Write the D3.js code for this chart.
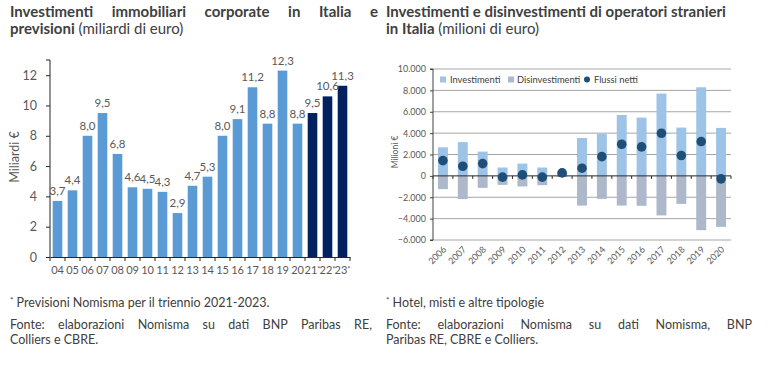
<!DOCTYPE html>
<html><head><meta charset="utf-8">
<script src="https://cdn.jsdelivr.net/npm/d3@7"></script>
<style>
body{margin:0;background:#fff;}
svg{display:block;font-family:Lato, "Open Sans", sans-serif;}
</style></head>
<body>
<svg id="c" width="768" height="381"></svg>
<script>
// ---- Left chart data ----
const years = ["04","05","06","07","08","09","10","11","12","13","14","15","16","17","18","19","20","21*","22*","23*"];
const investimenti = [3.7,4.4,8.0,9.5,6.8,4.6,4.5,4.3,2.9,4.7,5.3,8.0,9.1,11.2,8.8,12.3,8.8,9.5,10.6,11.3];
const forecast = [false,false,false,false,false,false,false,false,false,false,false,false,false,false,false,false,false,true,true,true];
const leftTicks = [0,2,4,6,8,10,12];

// ---- Right chart data ----
const anni = ["2006","2007","2008","2009","2010","2011","2012","2013","2014","2015","2016","2017","2018","2019","2020"];
const invEsteri = [2670,3160,2270,780,1150,780,380,3550,3950,5700,5450,7700,4520,8290,4490];
const disinvEsteri = [-1240,-2170,-1120,-840,-990,-870,-100,-2780,-2150,-2780,-2800,-3700,-2620,-5080,-4770];
const flussiNetti = [1430,900,1150,-120,90,-120,280,720,1800,2960,2710,3990,1900,3210,-280];
const rightTicks = [-6000,-4000,-2000,0,2000,4000,6000,8000,10000];
const legendLabels = ["Investimenti","Disinvestimenti","Flussi netti"];

const svg = d3.select("#c");
const txt = "#404040", lab = "#595959";

function justify(g, words, x0, x1, y, style){
  const nodes = words.map(w => { const t = g.append("text").attr("y", y).text(w.t); style(t, w); return t; });
  const widths = nodes.map(n => n.node().getComputedTextLength());
  const total = d3.sum(widths);
  const gap = (x1 - x0 - total) / (words.length - 1);
  let x = x0;
  nodes.forEach((n,i)=>{ n.attr("x", x); x += widths[i] + gap; });
}

// ---- Titles ----
const tStyle = (t,w)=>t.attr("font-size",15).attr("font-weight",700).attr("fill",txt);
justify(svg, ["Investimenti","immobiliari","corporate","in","Italia","e"].map(t=>({t})), 10, 378, 17, tStyle);
svg.append("text").attr("x",10).attr("y",34).attr("font-size",15).attr("fill",txt)
  .call(t=>{t.append("tspan").attr("font-weight",700).text("previsioni"); t.append("tspan").text(" (miliardi di euro)");});

svg.append("text").attr("x",386).attr("y",17).attr("font-size",15).attr("font-weight",700).attr("fill",txt)
  .text("Investimenti e disinvestimenti di operatori stranieri");
svg.append("text").attr("x",386).attr("y",34).attr("font-size",15).attr("fill",txt)
  .call(t=>{t.append("tspan").attr("font-weight",700).text("in Italia"); t.append("tspan").text(" (milioni di euro)");});

// ---- Left chart ----
const L = {x0:50, x1:350, y0:257, y1:60};
const xL = d3.scaleBand().domain(years).range([L.x0, L.x1]).paddingInner(0.36).paddingOuter(0.18);
const yL = d3.scaleLinear().domain([0,13]).range([L.y0, L.y1]);
const gl = svg.append("g");

gl.selectAll("rect.bar").data(years).join("rect")
  .attr("x", d=>xL(d)).attr("width", xL.bandwidth())
  .attr("y", (d,i)=>yL(investimenti[i])).attr("height", (d,i)=>yL(0)-yL(investimenti[i]))
  .attr("fill", (d,i)=>forecast[i] ? "#002060" : "#5B9BD5");

gl.selectAll("text.val").data(years).join("text")
  .attr("x", d=>xL(d)+xL.bandwidth()/2).attr("y",(d,i)=>yL(investimenti[i])-6)
  .attr("text-anchor","middle").attr("font-size",11.5).attr("fill",lab)
  .text((d,i)=>d3.format(".1f")(investimenti[i]).replace(".",","));

const yAxL = d3.axisLeft(yL).tickValues(leftTicks).tickSize(4).tickPadding(9).tickFormat(d=>d);
gl.append("g").attr("transform",`translate(${L.x0},0)`).call(yAxL)
  .call(g=>{g.select(".domain").attr("stroke","#262626").attr("d",`M-4,${L.y1}H0V${L.y0}`);
            g.selectAll(".tick line").attr("stroke","#262626");
            g.selectAll("text").attr("font-size",12.5).attr("fill",lab).attr("font-family","Lato");});

const xAxL = d3.axisBottom(xL).tickSize(0).tickPadding(9).tickFormat("");
gl.append("g").attr("transform",`translate(0,${L.y0})`).call(xAxL)
  .call(g=>{g.select(".domain").attr("stroke","#262626");
            g.selectAll(".tick text").each(function(d){
              const t = d3.select(this).attr("font-size",11).attr("fill",lab).attr("font-family","Lato");
              const num = d.replace("*","");
              t.append("tspan").text(num);
              if (d.includes("*")) t.append("tspan").attr("font-size",7.5).attr("dy",-2).text("*");
            });});
// category boundary ticks
gl.selectAll("line.bt").data(d3.range(years.length+1)).join("line")
  .attr("x1",i=>L.x0 + i*xL.step()).attr("x2",i=>L.x0 + i*xL.step())
  .attr("y1",L.y0).attr("y2",L.y0+4).attr("stroke","#262626");

gl.append("text").attr("transform",`translate(19,157) rotate(-90)`).attr("text-anchor","middle")
  .attr("font-size",12.5).attr("fill",lab).text("Miliardi €");

// ---- Right chart ----
const R = {x0:433, x1:731, yTop:69, yBot:240};
const xR = d3.scaleBand().domain(anni).range([R.x0, R.x1]).paddingInner(0.5).paddingOuter(0.25);
const yR = d3.scaleLinear().domain([-6000,10000]).range([R.yBot, R.yTop]);
const gr = svg.append("g");
const fmt = d=> d===0 ? "0" : d3.format(",")(d).replace(/,/g,".");

gr.selectAll("line.grid").data(rightTicks.filter(d=>d!==0)).join("line")
  .attr("x1",R.x0).attr("x2",R.x1).attr("y1",d=>yR(d)).attr("y2",d=>yR(d))
  .attr("stroke","#a6a6a6").attr("stroke-width",1);

gr.selectAll("rect.inv").data(anni).join("rect")
  .attr("x",d=>xR(d)).attr("width",xR.bandwidth())
  .attr("y",(d,i)=>yR(invEsteri[i])).attr("height",(d,i)=>yR(0)-yR(invEsteri[i]))
  .attr("fill","#9DC3E6");
gr.selectAll("rect.dis").data(anni).join("rect")
  .attr("x",d=>xR(d)).attr("width",xR.bandwidth())
  .attr("y",yR(0)).attr("height",(d,i)=>yR(disinvEsteri[i])-yR(0))
  .attr("fill","#ADB9CA");

// zero axis with ticks
gr.append("line").attr("x1",R.x0).attr("x2",R.x1).attr("y1",yR(0)).attr("y2",yR(0)).attr("stroke","#262626");
gr.selectAll("line.zt").data(d3.range(anni.length+1)).join("line")
  .attr("x1",i=>R.x0+i*xR.step()).attr("x2",i=>R.x0+i*xR.step())
  .attr("y1",yR(0)).attr("y2",yR(0)+3).attr("stroke","#262626");

gr.selectAll("circle.net").data(anni).join("circle")
  .attr("cx",d=>xR(d)+xR.bandwidth()/2).attr("cy",(d,i)=>yR(flussiNetti[i]))
  .attr("r",4.8).attr("fill","#1F4E79");

const yAxR = d3.axisLeft(yR).tickValues(rightTicks).tickSize(3).tickPadding(4).tickFormat(fmt);
gr.append("g").attr("transform",`translate(${R.x0},0)`).call(yAxR)
  .call(g=>{g.select(".domain").attr("stroke","#404040").attr("d",`M-3,${R.yTop}H0V${R.yBot}H-3`);
            g.selectAll(".tick line").attr("stroke","#404040");
            g.selectAll("text").attr("font-size",9).attr("fill",lab).attr("font-family","Lato");});

gr.selectAll("text.xl").data(anni).join("text")
  .attr("transform",d=>`translate(${xR(d)+xR.bandwidth()/2+4},${R.yBot+10}) rotate(-45)`)
  .attr("text-anchor","end").attr("font-size",9).attr("fill",lab).text(d=>d);

gr.append("text").attr("transform",`translate(398,152) rotate(-90)`).attr("text-anchor","middle")
  .attr("font-size",8.5).attr("fill",lab).text("Milioni €");

// legend
const lg = gr.append("g").attr("font-size",9.3).attr("fill",txt);
lg.append("rect").attr("x",440).attr("y",76.5).attr("width",6).attr("height",6).attr("fill","#9DC3E6");
lg.append("text").attr("x",450).attr("y",83).text(legendLabels[0]);
lg.append("rect").attr("x",508).attr("y",76.5).attr("width",6).attr("height",6).attr("fill","#ADB9CA");
lg.append("text").attr("x",517).attr("y",83).text(legendLabels[1]);
lg.append("circle").attr("cx",587).attr("cy",79.5).attr("r",3).attr("fill","#1F4E79");
lg.append("text").attr("x",594).attr("y",83).text(legendLabels[2]);

// ---- Footnotes ----
const fs = 12.5;
const foot = svg.append("g").attr("font-size",fs).attr("fill",txt);
foot.append("text").attr("x",10).attr("y",306.5)
  .call(t=>{t.append("tspan").attr("font-size",8).attr("dy",-4).text("*"); t.append("tspan").attr("dy",4).text(" Previsioni Nomisma per il triennio 2021-2023.");});
foot.append("text").attr("x",386).attr("y",306.5)
  .call(t=>{t.append("tspan").attr("font-size",8).attr("dy",-4).text("*"); t.append("tspan").attr("dy",4).text(" Hotel, misti e altre tipologie");});
const fStyle = t=>t.attr("font-size",fs).attr("fill",txt);
justify(foot, "Fonte: elaborazioni Nomisma su dati BNP Paribas RE,".split(" ").map(t=>({t})), 10, 372, 329, fStyle);
foot.append("text").attr("x",10).attr("y",344).text("Colliers e CBRE.");
justify(foot, "Fonte: elaborazioni Nomisma su dati Nomisma, BNP".split(" ").map(t=>({t})), 386, 752, 329, fStyle);
foot.append("text").attr("x",386).attr("y",344).text("Paribas RE, CBRE e Colliers.");
</script>
</body></html>
